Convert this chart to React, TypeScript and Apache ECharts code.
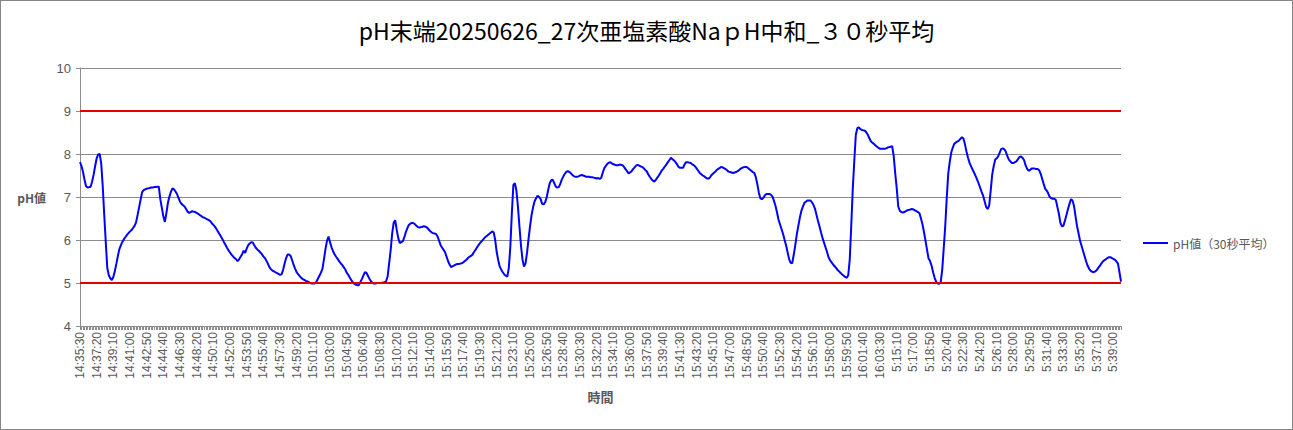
import React, { useEffect, useRef } from "react";
import * as echarts from "echarts";

const TITLE = "pH末端20250626_27次亜塩素酸NaｐH中和_３０秒平均";
const SERIES_NAME = "pH値（30秒平均）";
const X_NAME = "時間";
const Y_NAME = "pH値";
const SEGMENT_STARTS = ["14:35:30", "5:14:50"];
const SEGMENT_COUNTS = [537, 151];
const STEP_SECONDS = 10;
const LIMIT_LINES = [9, 5];
const Y_TICKS = [4, 5, 6, 7, 8, 9, 10];

const PH_VALUES = [
  7.81, 7.72, 7.58, 7.40, 7.25, 7.22, 7.23, 7.24, 7.36, 7.52, 7.72,
  7.90, 7.99, 8.00, 7.78, 7.25, 6.58, 5.95, 5.35, 5.18, 5.11, 5.07,
  5.14, 5.28, 5.45, 5.63, 5.79, 5.88, 5.96, 6.02, 6.07, 6.12, 6.16,
  6.20, 6.23, 6.28, 6.33, 6.41, 6.58, 6.76, 6.94, 7.11, 7.16, 7.18,
  7.19, 7.20, 7.21, 7.22, 7.22, 7.23, 7.23, 7.24, 7.24, 6.95, 6.75,
  6.55, 6.42, 6.62, 6.86, 7.01, 7.12, 7.20, 7.18, 7.13, 7.07, 6.98,
  6.89, 6.84, 6.81, 6.78, 6.72, 6.66, 6.63, 6.65, 6.67, 6.66, 6.65,
  6.63, 6.61, 6.58, 6.56, 6.53, 6.52, 6.50, 6.48, 6.46, 6.44, 6.39,
  6.35, 6.31, 6.26, 6.20, 6.14, 6.08, 6.02, 5.95, 5.89, 5.82, 5.76,
  5.71, 5.66, 5.62, 5.58, 5.55, 5.51, 5.55, 5.61, 5.67, 5.75, 5.70,
  5.80, 5.88, 5.92, 5.95, 5.94, 5.88, 5.82, 5.78, 5.75, 5.71, 5.67,
  5.62, 5.58, 5.52, 5.45, 5.37, 5.32, 5.29, 5.27, 5.25, 5.23, 5.21,
  5.19, 5.20, 5.30, 5.45, 5.58, 5.66, 5.66, 5.63, 5.53, 5.42, 5.33,
  5.25, 5.20, 5.16, 5.12, 5.09, 5.07, 5.05, 5.04, 5.02, 5.00, 4.99,
  4.99, 4.99, 5.03, 5.10, 5.17, 5.24, 5.33, 5.55, 5.79, 5.98, 6.08,
  5.95, 5.83, 5.74, 5.67, 5.61, 5.56, 5.51, 5.46, 5.42, 5.37, 5.32,
  5.24, 5.19, 5.13, 5.07, 5.02, 4.98, 4.96, 4.95, 4.95, 5.02, 5.09,
  5.17, 5.25, 5.24, 5.17, 5.10, 5.04, 5.00, 4.99, 4.99, 5.00, 5.00,
  5.00, 5.00, 5.01, 5.02, 5.04, 5.15, 5.45, 5.76, 6.15, 6.40, 6.46,
  6.24, 6.05, 5.93, 5.95, 5.97, 6.06, 6.18, 6.27, 6.35, 6.38, 6.40,
  6.39, 6.37, 6.33, 6.30, 6.29, 6.30, 6.31, 6.32, 6.31, 6.29, 6.25,
  6.21, 6.18, 6.16, 6.15, 6.14, 6.08, 5.98, 5.88, 5.82, 5.77, 5.71,
  5.60, 5.50, 5.42, 5.37, 5.39, 5.41, 5.43, 5.44, 5.44, 5.45, 5.46,
  5.48, 5.51, 5.54, 5.58, 5.61, 5.63, 5.66, 5.72, 5.77, 5.83, 5.88,
  5.93, 5.97, 6.01, 6.05, 6.08, 6.11, 6.14, 6.17, 6.20, 6.18, 6.00,
  5.72, 5.53, 5.38, 5.31, 5.25, 5.20, 5.17, 5.15, 5.35, 5.85, 6.63,
  7.28, 7.32, 7.15, 6.78, 6.32, 5.88, 5.55, 5.38, 5.45, 5.70, 6.02,
  6.32, 6.58, 6.76, 6.90, 6.97, 7.03, 7.00, 6.95, 6.84, 6.83, 6.88,
  6.99, 7.17, 7.32, 7.39, 7.40, 7.32, 7.24, 7.22, 7.23, 7.31, 7.41,
  7.48, 7.54, 7.59, 7.60, 7.58, 7.55, 7.51, 7.48, 7.47, 7.47, 7.48,
  7.50, 7.51, 7.50, 7.49, 7.47, 7.47, 7.47, 7.46, 7.46, 7.45, 7.44,
  7.43, 7.44, 7.42, 7.45, 7.57, 7.67, 7.72, 7.77, 7.80, 7.81, 7.78,
  7.76, 7.75, 7.74, 7.74, 7.75, 7.75, 7.74, 7.70, 7.65, 7.60, 7.55,
  7.57, 7.60, 7.65, 7.69, 7.73, 7.75, 7.73, 7.71, 7.70, 7.67, 7.63,
  7.60, 7.53, 7.47, 7.42, 7.38, 7.36, 7.40, 7.45, 7.50, 7.56, 7.62,
  7.66, 7.71, 7.76, 7.81, 7.86, 7.91, 7.88, 7.85, 7.81, 7.76, 7.70,
  7.68, 7.68, 7.68, 7.76, 7.81, 7.81, 7.80, 7.79, 7.76, 7.74, 7.71,
  7.66, 7.61, 7.56, 7.53, 7.50, 7.48, 7.45, 7.43, 7.43, 7.47, 7.52,
  7.55, 7.58, 7.62, 7.65, 7.67, 7.70, 7.69, 7.67, 7.65, 7.62, 7.59,
  7.58, 7.57, 7.56, 7.57, 7.58, 7.60, 7.63, 7.66, 7.68, 7.69, 7.70,
  7.70, 7.67, 7.64, 7.61, 7.58, 7.56, 7.46, 7.30, 7.10, 6.97, 6.95,
  6.98, 7.04, 7.07, 7.07, 7.07, 7.05, 7.01, 6.91, 6.79, 6.64, 6.47,
  6.36, 6.25, 6.14, 6.00, 5.87, 5.71, 5.55, 5.47, 5.46, 5.65, 5.87,
  6.12, 6.32, 6.51, 6.67, 6.77, 6.86, 6.89, 6.92, 6.92, 6.92, 6.88,
  6.82, 6.73, 6.59, 6.45, 6.32, 6.18, 6.05, 5.94, 5.83, 5.72, 5.60,
  5.53, 5.48, 5.43, 5.39, 5.35, 5.30, 5.27, 5.23, 5.20, 5.17, 5.14,
  5.12, 5.18, 5.55, 6.35, 7.20, 7.85, 8.45, 8.60, 8.62, 8.58, 8.56,
  8.55, 8.54, 8.50, 8.44, 8.36, 8.29, 8.26, 8.23, 8.20, 8.17, 8.14,
  8.12, 8.12, 8.12, 8.12, 8.13, 8.15, 8.16, 8.17, 8.18, 7.95, 7.55,
  7.20, 6.78, 6.68, 6.65, 6.64, 6.65, 6.67, 6.69, 6.70, 6.71, 6.72,
  6.71, 6.69, 6.67, 6.65, 6.62, 6.50, 6.36, 6.18, 5.98, 5.77, 5.57,
  5.51, 5.40, 5.25, 5.12, 5.03, 4.99, 4.98, 5.02, 5.30, 5.80, 6.32,
  6.98, 7.55, 7.82, 8.04, 8.15, 8.24, 8.27, 8.29, 8.31, 8.35, 8.39,
  8.36, 8.23, 8.06, 7.92, 7.80, 7.72, 7.64, 7.57, 7.49, 7.41, 7.32,
  7.22, 7.12, 7.03, 6.90, 6.77, 6.72, 6.80, 7.15, 7.52, 7.72, 7.87,
  7.90, 7.95, 8.04, 8.12, 8.13, 8.11, 8.05, 7.95, 7.87, 7.83, 7.79,
  7.79, 7.81, 7.83, 7.88, 7.93, 7.94, 7.91, 7.86, 7.74, 7.66, 7.61,
  7.63, 7.66, 7.66, 7.66, 7.65, 7.65, 7.62, 7.54, 7.42, 7.30, 7.19,
  7.15, 7.08, 7.00, 6.97, 6.96, 6.96, 6.93, 6.77, 6.61, 6.40, 6.32,
  6.33, 6.45, 6.58, 6.72, 6.84, 6.95, 6.92, 6.79, 6.55, 6.32, 6.15,
  5.98, 5.86, 5.74, 5.62, 5.50, 5.40, 5.33, 5.28, 5.26, 5.25, 5.27,
  5.30, 5.35, 5.40, 5.45, 5.50, 5.53, 5.55, 5.58, 5.60, 5.60, 5.58,
  5.56, 5.54, 5.50, 5.45, 5.25, 5.03,
];

function buildCategories(): string[] {
  const out: string[] = [];
  SEGMENT_STARTS.forEach((start, s) => {
    const [h, m, sec] = start.split(":").map(Number);
    let t = h * 3600 + m * 60 + sec;
    for (let k = 0; k < SEGMENT_COUNTS[s]; k++) {
      const hh = Math.floor(t / 3600) % 24;
      const mm = Math.floor((t % 3600) / 60);
      const ss = t % 60;
      out.push(`${hh}:${String(mm).padStart(2, "0")}:${String(ss).padStart(2, "0")}`);
      t += STEP_SECONDS;
    }
  });
  return out;
}

const CATEGORIES = buildCategories();

const JP = "'Noto Sans CJK JP', 'Liberation Sans', sans-serif";
const NUM = "'Liberation Sans', 'Noto Sans CJK JP', sans-serif";
const LABEL_COLOR = "#595959";
const GRID_COLOR = "#8c8c8c";
const LINE_COLOR = "#0000ff";

export default function App() {
  const ref = useRef<HTMLDivElement>(null);

  useEffect(() => {
    if (!ref.current) return;
    const chart = echarts.init(ref.current, undefined, { renderer: "svg" });
    chart.setOption({
      animation: false,
      backgroundColor: "#ffffff",
      title: {
        text: TITLE,
        left: "center",
        top: 12,
        textStyle: { fontFamily: JP, fontSize: 23, fontWeight: "normal", color: "#000000" },
      },
      legend: {
        data: [{ name: SERIES_NAME, icon: "rect" }],
        orient: "vertical",
        left: 1137,
        top: 231,
        itemWidth: 25,
        itemHeight: 2,
        itemGap: 5,
        itemStyle: { color: LINE_COLOR },
        textStyle: { fontFamily: JP, fontSize: 12, color: LABEL_COLOR },
      },
      grid: { left: 79, right: 171, top: 67, bottom: 103, containLabel: false },
      xAxis: {
        type: "category",
        data: CATEGORIES,
        boundaryGap: false,
        name: X_NAME,
        nameLocation: "middle",
        nameGap: 64,
        nameTextStyle: { fontFamily: JP, fontSize: 13, fontWeight: "bold", color: LABEL_COLOR },
        axisLine: { show: true, lineStyle: { color: GRID_COLOR, width: 1 } },
        axisTick: { show: true, interval: 0, length: 4, lineStyle: { color: GRID_COLOR } },
        axisLabel: {
          interval: 10,
          rotate: 90,
          margin: 6,
          fontFamily: NUM,
          fontSize: 12,
          color: LABEL_COLOR,
        },
        splitLine: { show: false },
      },
      yAxis: {
        type: "value",
        min: Y_TICKS[0],
        max: Y_TICKS[Y_TICKS.length - 1],
        interval: 1,
        name: Y_NAME,
        nameLocation: "middle",
        nameRotate: 0,
        nameGap: 34,
        nameTextStyle: { fontFamily: JP, fontSize: 12, fontWeight: "bold", color: LABEL_COLOR },
        axisLine: { show: true, lineStyle: { color: GRID_COLOR, width: 1 } },
        axisTick: { show: true, length: 4, lineStyle: { color: GRID_COLOR } },
        axisLabel: { margin: 9, fontFamily: NUM, fontSize: 13, color: LABEL_COLOR },
        splitLine: { show: true, lineStyle: { color: GRID_COLOR, width: 1 } },
      },
      series: [
        {
          name: SERIES_NAME,
          type: "line",
          data: PH_VALUES,
          symbol: "none",
          smooth: false,
          lineStyle: { color: LINE_COLOR, width: 2 },
          itemStyle: { color: LINE_COLOR },
          markLine: {
            silent: true,
            symbol: "none",
            label: { show: false },
            lineStyle: { color: "#e00000", width: 2, type: "solid" },
            data: LIMIT_LINES.map((v) => ({ yAxis: v })),
          },
          z: 3,
        },
      ],
    });
    return () => chart.dispose();
  }, []);

  return (
    <div
      style={{
        position: "absolute",
        left: 0,
        top: 0,
        width: 1293,
        height: 430,
        boxSizing: "border-box",
        border: "1px solid #868686",
        background: "#fff",
      }}
    >
      <div ref={ref} style={{ width: 1291, height: 428 }} />
    </div>
  );
}
